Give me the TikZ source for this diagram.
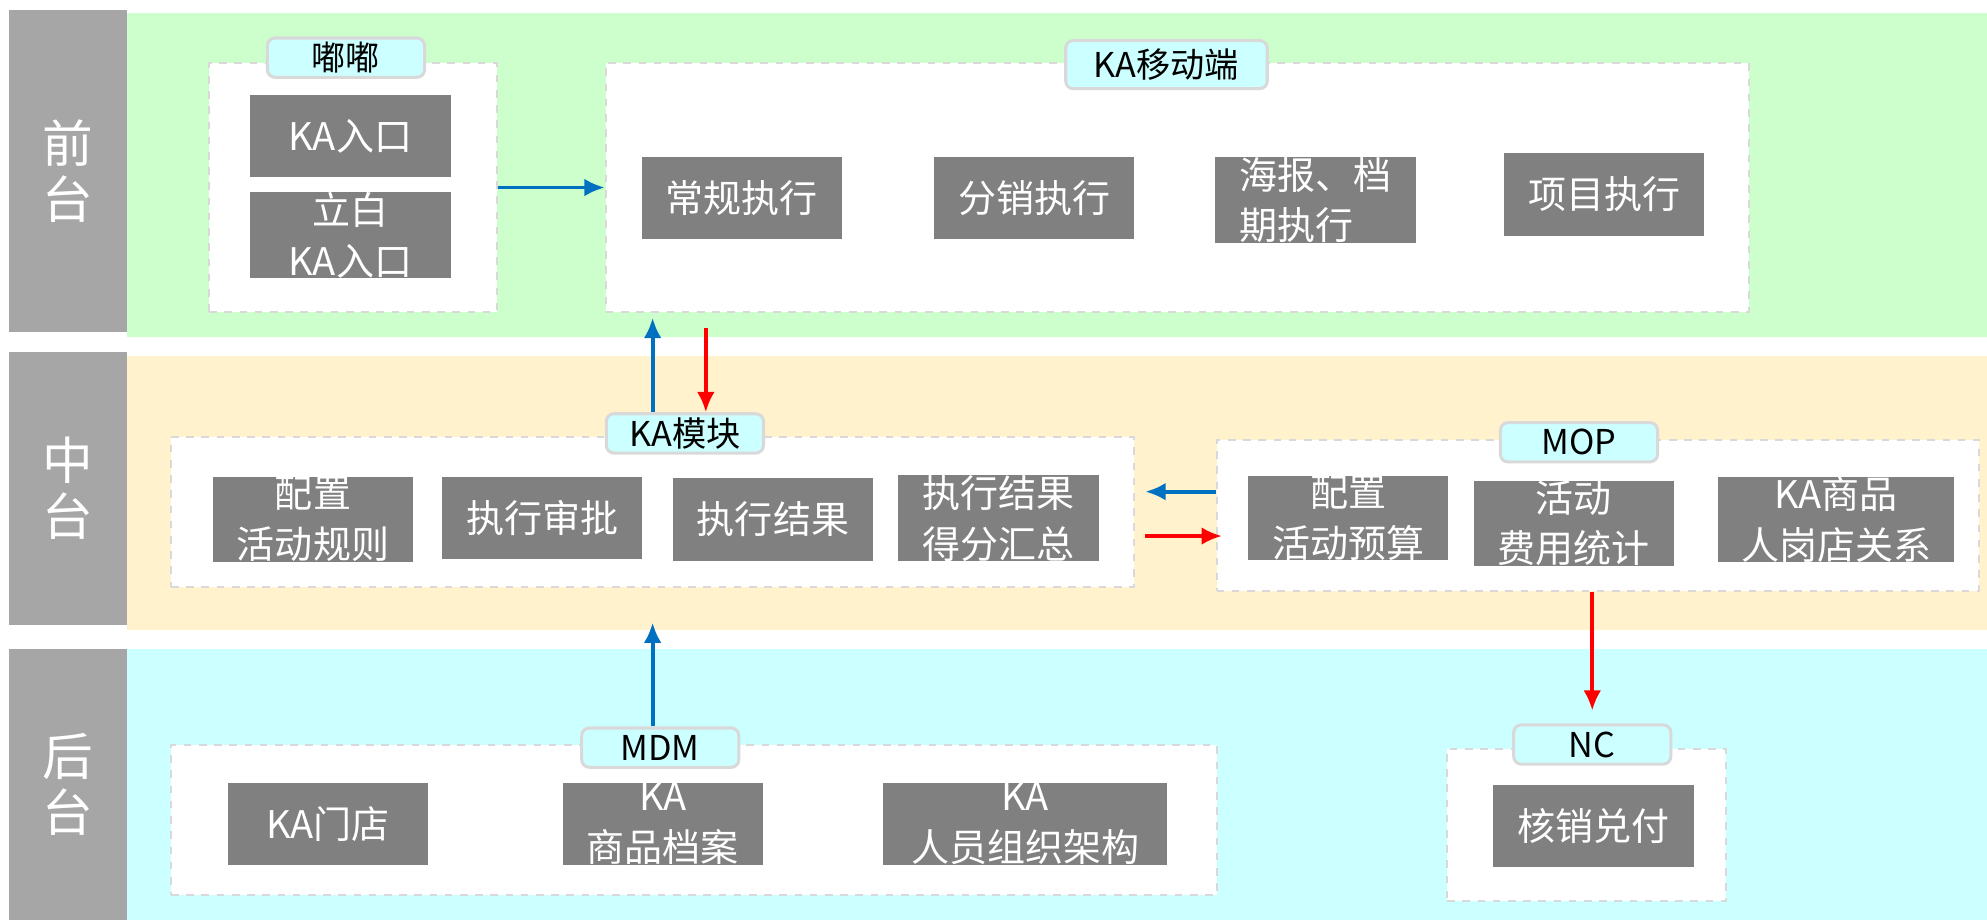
\documentclass[tikz,border=0pt]{standalone}
\usepackage{fontspec}
\setmainfont{Noto Sans CJK SC}
\usetikzlibrary{arrows.meta}
\definecolor{layergray}{HTML}{A6A6A6}
\definecolor{itemgray}{HTML}{808080}
\definecolor{bandgreen}{HTML}{CCFFCC}
\definecolor{bandyellow}{HTML}{FFF2CC}
\definecolor{bandcyan}{HTML}{CCFFFF}
\definecolor{tagcyan}{HTML}{CCFFFF}
\definecolor{boxline}{HTML}{D9D9D9}
\definecolor{arrowblue}{HTML}{0070C0}
\tikzstyle{layer}=[fill=layergray,text=white,font=\fontsize{20}{22}\selectfont,align=center,minimum width=46.5pt,inner sep=0pt]
\tikzstyle{group}=[fill=white,draw=boxline,dashed,line width=0.8pt,inner sep=0pt]
\tikzstyle{tag}=[fill=tagcyan,draw=boxline,rounded corners=3pt,line width=1.2pt,font=\fontsize{13.5}{15}\selectfont,minimum width=62pt,minimum height=15.5pt,inner sep=0pt]
\tikzstyle{item}=[fill=itemgray,text=white,font=\fontsize{15}{20}\selectfont,align=center,minimum width=79pt,minimum height=32.5pt,inner sep=0pt]
\tikzstyle{myblue}=[draw=arrowblue,line width=1.5pt,>={Latex[length=8pt,width=7pt]},->]
\tikzstyle{myred}=[draw=red,line width=1.5pt,>={Latex[length=8pt,width=7pt]},->]

\begin{document}
\begin{tikzpicture}[x=0.5pt,y=-0.5pt]
		\useasboundingbox (0,0) rectangle (1568,726);
		\fill[bandgreen] (100,10) rectangle (1568,266);
		\fill[bandyellow] (100,281) rectangle (1568,497);
		\fill[bandcyan] (100,512) rectangle (1568,726);

		\node[layer,minimum height=127pt] (front) at (53.5,135) {前\\台};
		\node[layer,minimum height=107.5pt] (middle) at (53.5,385.5) {中\\台};
		\node[layer,minimum height=107pt] (back) at (53.5,619) {后\\台};

		% groups
		\node[group,minimum width=113.5pt,minimum height=98pt] (gDudu) at (278.5,148) {};
		\node[group,minimum width=451pt,minimum height=98pt] (gMobile) at (929,148) {};
		\node[group,minimum width=380pt,minimum height=59pt] (gKA) at (515,404) {};
		\node[group,minimum width=301pt,minimum height=59.5pt] (gMOP) at (1261,406.5) {};
		\node[group,minimum width=412.5pt,minimum height=59pt] (gMDM) at (547.5,647) {};
		\node[group,minimum width=110pt,minimum height=60pt] (gNC) at (1252,651) {};

		\node[tag] (tDudu) at (273,45.5) {嘟嘟};
		\node[tag,minimum width=79.5pt,minimum height=19pt] (tMobile) at (920.5,51) {KA移动端};
		\node[tag] (tKA) at (540.5,342) {KA模块};
		\node[tag] (tMOP) at (1246,349) {MOP};
		\node[tag] (tMDM) at (521,590) {MDM};
		\node[tag] (tNC) at (1256.5,587.5) {NC};

		% front
		\node[item] (kaEntry) at (276.5,107.5) {KA入口};
		\node[item] (lbEntry) at (276.5,185.5) {立白\\KA入口};
		\node[item] (normal) at (585.5,156.5) {常规执行};
		\node[item] (distrib) at (816,156.5) {分销执行};
		\node[item,align=left] (poster) at (1038,158) {海报、档\\期执行};
		\node[item] (project) at (1266,153.5) {项目执行};
		% middle
		\node[item] (rules) at (247,410) {配置\\活动规则};
		\node[item] (approve) at (428,409) {执行审批};
		\node[item] (result) at (610,410) {执行结果};
		\node[item] (score) at (788,409) {执行结果\\得分汇总};
		\node[item] (budget) at (1064,409) {配置\\活动预算};
		\node[item] (cost) at (1242,413) {活动\\费用统计};
		\node[item,minimum width=93pt] (relation) at (1449,410) {KA商品\\人岗店关系};
		% back
		\node[item] (store) at (259,650) {KA门店};
		\node[item] (goods) at (523,650) {KA\\商品档案};
		\node[item,minimum width=112pt] (staff) at (809,650) {KA\\人员组织架构};
		\node[item] (pay) at (1257.5,652) {核销兑付};

		\draw[myblue] (gDudu) -- (gMobile);
		\draw[myblue,shorten >=2pt] ([xshift=-12.75pt]tKA.north) -- ([xshift=-12.75pt]tKA.north |- gMobile.south);
		\draw[myred,shorten <=6pt] ([xshift=8.25pt]tKA.north |- gMobile.south) -- ([xshift=8.25pt]tKA.north);
		\draw[myblue] (gMOP.west |- 0,388) -- ([xshift=4pt]gKA.east |- 0,388);
		\draw[myred] ([xshift=4pt]gKA.east |- 0,423) -- ([xshift=2.5pt]gMOP.west |- 0,423);
		\draw[myred,shorten >=5pt] (gMOP.south -| tNC.north) -- (tNC.north);
		\draw[myblue] ([xshift=-3pt]tMDM.north) -- ++(0,-82);
	\end{tikzpicture}
\end{document}
